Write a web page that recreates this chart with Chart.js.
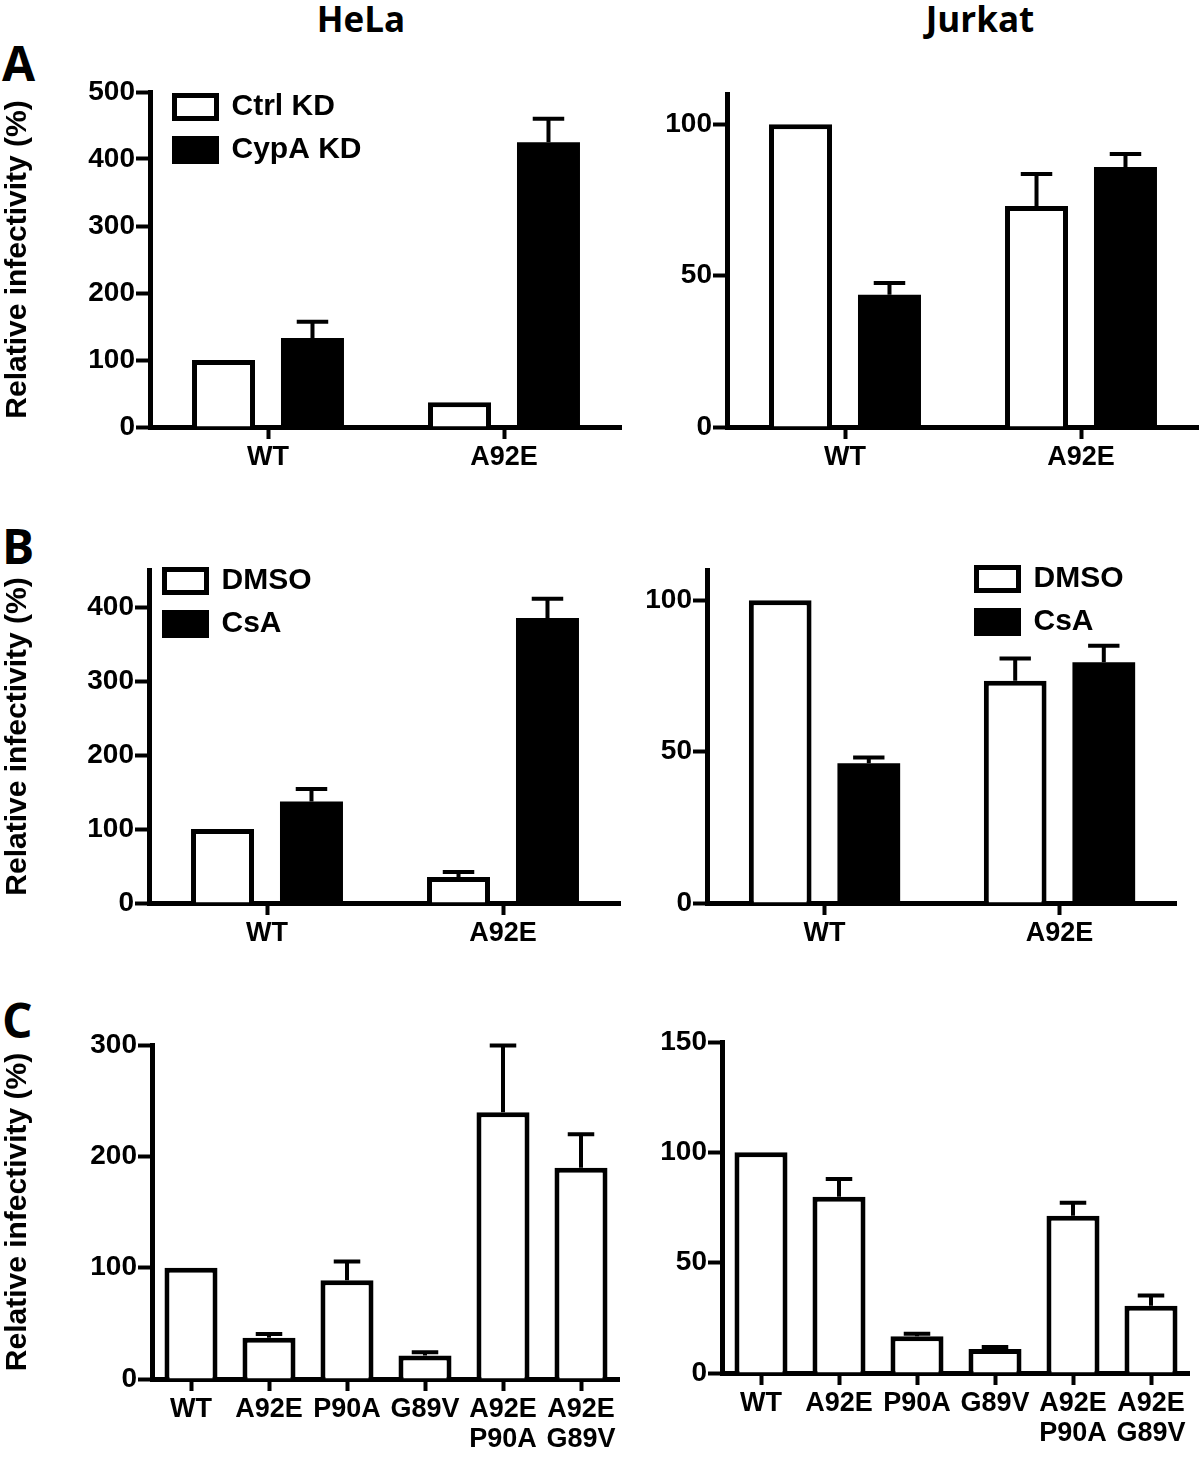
<!DOCTYPE html>
<html>
<head>
<meta charset="utf-8">
<script src="https://cdn.jsdelivr.net/npm/chart.js@4.4.0/dist/chart.umd.min.js"></script>
<style>
  body { margin: 0; width: 1200px; height: 1458px; position: relative; overflow: hidden; background: #fff; font-family: "Open Sans", sans-serif; }
  canvas { position: absolute; }
  .txt { position: absolute; font-weight: 700; line-height: 1; white-space: nowrap; color: #000; }
  .head { font-size: 35px; transform: translateX(-50%); }
  .letter { font-size: 48px; }
</style>
</head>
<body>
<div class="txt head" style="left:361px; top:1px">HeLa</div>
<div class="txt head" style="left:980px; top:1px">Jurkat</div>
<div class="txt letter" style="left:2px; top:39px">A</div>
<div class="txt letter" style="left:2px; top:522px">B</div>
<div class="txt letter" style="left:2px; top:996px">C</div>

<canvas id="aHela" width="622" height="405" style="left:0; top:72px"></canvas>
<canvas id="aJurkat" width="559" height="403" style="left:640px; top:74px"></canvas>
<canvas id="bHela" width="621" height="403" style="left:0; top:550px"></canvas>
<canvas id="bJurkat" width="537" height="403" style="left:640px; top:550px"></canvas>
<canvas id="cHela" width="620" height="432" style="left:0; top:1025px"></canvas>
<canvas id="cJurkat" width="550" height="431" style="left:640px; top:1022px"></canvas>

<script>
const pairGroups = ["WT", "A92E"];
const mutantGroups = ["WT", "A92E", "P90A", "G89V", ["A92E", "P90A"], ["A92E", "G89V"]];

// A: knockdown
const ctrlKdHela = [100, 37];
const ctrlKdHelaErr = [0, 0];
const cypaKdHela = [133, 425];
const cypaKdHelaErr = [24, 35];
const ctrlKdJurkat = [100, 73];
const ctrlKdJurkatErr = [0, 10.6];
const cypaKdJurkat = [43.7, 85.9];
const cypaKdJurkatErr = [3.9, 4.3];

// B: DMSO vs CsA
const dmsoHela = [100, 35];
const dmsoHelaErr = [0, 7];
const csaHela = [137, 385];
const csaHelaErr = [17, 26];
const dmsoJurkat = [100, 73.4];
const dmsoJurkatErr = [0, 7.4];
const csaJurkat = [46.2, 79.5];
const csaJurkatErr = [1.9, 5.5];

// C: capsid mutants
const mutantHela = [100, 37, 88.6, 21, 239.6, 189.8];
const mutantHelaErr = [0, 3.5, 17, 3, 60, 30];
const mutantJurkat = [100, 79.9, 16.6, 10.9, 71.3, 30.5];
const mutantJurkatErr = [0, 8, 1.2, 0.9, 5.9, 4.6];

// y axis ticks
const ticksAHela = [0, 100, 200, 300, 400, 500];
const ticksBHela = [0, 100, 200, 300, 400];
const ticksCHela = [0, 100, 200, 300];
const ticksJurkat = [0, 50, 100];
const ticksCJurkat = [0, 50, 100, 150];

Chart.defaults.font.family = "'Liberation Sans', Arial, sans-serif";
Chart.defaults.font.weight = "bold";
Chart.defaults.color = "#000";

// draws the upper half of each error bar
const errorBars = {
  id: "errorBars",
  afterDatasetsDraw(chart) {
    const ctx = chart.ctx;
    const y = chart.scales.y;
    ctx.save();
    ctx.strokeStyle = "#000";
    ctx.lineWidth = 4;
    chart.data.datasets.forEach((ds, i) => {
      chart.getDatasetMeta(i).data.forEach((bar, j) => {
        const err = ds.errors[j];
        if (!err) return;
        const top = y.getPixelForValue(ds.data[j] + err);
        const half = bar.width / 4;
        ctx.beginPath();
        ctx.moveTo(bar.x, bar.y);
        ctx.lineTo(bar.x, top);
        ctx.moveTo(bar.x - half, top);
        ctx.lineTo(bar.x + half, top);
        ctx.stroke();
      });
    });
    ctx.restore();
  },
};

// moves the in-plot legend (its top starts at the canvas top)
const legendShift = {
  id: "legendShift",
  afterLayout(chart, args, opts) {
    const lg = chart.legend;
    if (!lg || (!opts.dx && !opts.dy)) return;
    lg.left += opts.dx;
    lg.right += opts.dx;
    lg.top += opts.dy;
    lg.bottom += opts.dy;
  },
};

function bars(label, data, errors, filled) {
  return {
    label: label,
    data: data,
    errors: errors,
    backgroundColor: filled ? "#000" : "#fff",
    borderColor: "#000",
    borderWidth: filled ? 0 : 5,
  };
}

function legendItems(chart) {
  return Chart.defaults.plugins.legend.labels.generateLabels(chart).map((item) => {
    item.lineWidth = 5;
    item.strokeStyle = "#000";
    return item;
  });
}

function drawPanel(id, p) {
  const ctx = document.getElementById(id).getContext("2d");
  new Chart(ctx, {
    type: "bar",
    data: { labels: p.labels, datasets: p.datasets },
    options: {
      responsive: false,
      animation: false,
      events: [],
      layout: { padding: { top: 20, right: 0, bottom: 0, left: 0 } },
      datasets: {
        bar: { categoryPercentage: p.catPct, barPercentage: p.barPct },
      },
      scales: {
        x: {
          grid: { display: true, offset: false, drawOnChartArea: false, tickLength: 12, tickWidth: 4, tickColor: "#000" },
          border: { display: true, color: "#000", width: 5 },
          ticks: { font: { size: 27, weight: "bold", lineHeight: 1.1 }, padding: 4, maxRotation: 0, autoSkip: false },
          afterFit: (scale) => { scale.height = p.xHeight; },
        },
        y: {
          min: 0,
          max: p.yMax,
          grid: { drawOnChartArea: false, tickLength: 14, tickWidth: 4, tickColor: "#000" },
          border: { display: true, color: "#000", width: 5 },
          ticks: { font: { size: 28, weight: "bold" }, padding: 1 },
          afterBuildTicks: (scale) => { scale.ticks = p.yTicks.map((v) => ({ value: v })); },
          afterFit: (scale) => { scale.width = p.yWidth; },
          title: {
            display: !!p.yTitle,
            text: "Relative infectivity (%)",
            font: { size: 30, weight: "bold" },
            padding: 0,
          },
        },
      },
      plugins: {
        tooltip: { enabled: false },
        legend: {
          display: !!p.legend,
          position: "chartArea",
          align: "start",
          labels: {
            boxWidth: 42, boxHeight: 23, padding: 13, color: "#000",
            font: { size: 30, weight: "bold" },
            generateLabels: legendItems,
          },
        },
        legendShift: p.legend || {},
      },
    },
    plugins: [errorBars, legendShift],
  });
}

drawPanel("aHela", {
  labels: pairGroups,
  datasets: [bars("Ctrl KD", ctrlKdHela, ctrlKdHelaErr, false), bars("CypA KD", cypaKdHela, cypaKdHelaErr, true)],
  yTicks: ticksAHela, yMax: 500, yWidth: 150, xHeight: 50, yTitle: true,
  catPct: 0.754, barPct: 0.708,
  legend: { dx: 11.5, dy: 7 },
});

drawPanel("aJurkat", {
  labels: pairGroups,
  datasets: [bars("Ctrl KD", ctrlKdJurkat, ctrlKdJurkatErr, false), bars("CypA KD", cypaKdJurkat, cypaKdJurkatErr, true)],
  yTicks: ticksJurkat, yMax: 110, yWidth: 87, xHeight: 50, yTitle: false,
  catPct: 0.754, barPct: 0.708,
});

drawPanel("bHela", {
  labels: pairGroups,
  datasets: [bars("DMSO", dmsoHela, dmsoHelaErr, false), bars("CsA", csaHela, csaHelaErr, true)],
  yTicks: ticksBHela, yMax: 450, yWidth: 149, xHeight: 50, yTitle: true,
  catPct: 0.754, barPct: 0.708,
  legend: { dx: 2.5, dy: 3 },
});

drawPanel("bJurkat", {
  labels: pairGroups,
  datasets: [bars("DMSO", dmsoJurkat, dmsoJurkatErr, false), bars("CsA", csaJurkat, csaJurkatErr, true)],
  yTicks: ticksJurkat, yMax: 110, yWidth: 67, xHeight: 50, yTitle: false,
  catPct: 0.754, barPct: 0.708,
  legend: { dx: 256.5, dy: 1 },
});

drawPanel("cHela", {
  labels: mutantGroups,
  datasets: [bars("HeLa", mutantHela, mutantHelaErr, false)],
  yTicks: ticksCHela, yMax: 300, yWidth: 152, xHeight: 78, yTitle: true,
  catPct: 1, barPct: 0.68,
});

drawPanel("cJurkat", {
  labels: mutantGroups,
  datasets: [bars("Jurkat", mutantJurkat, mutantJurkatErr, false)],
  yTicks: ticksCJurkat, yMax: 150, yWidth: 82, xHeight: 80, yTitle: false,
  catPct: 1, barPct: 0.68,
});
</script>
</body>
</html>
